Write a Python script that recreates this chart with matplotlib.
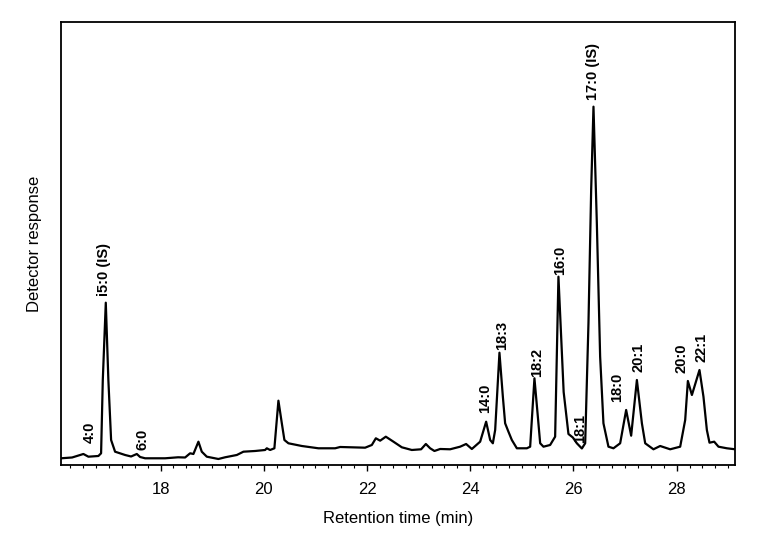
import numpy as np
import matplotlib
matplotlib.use("Agg")
import matplotlib.pyplot as plt
from matplotlib.ticker import MultipleLocator

plt.rcParams['font.family'] = ['Liberation Sans', 'DejaVu Sans']

# chromatogram trace (time in min, response in arbitrary units)
time_min = [16.072, 16.285, 16.504, 16.601, 16.795, 16.847, 16.880, 16.938, 16.988, 17.041,
            17.118, 17.312, 17.428, 17.539, 17.603, 17.700, 18.087, 18.339, 18.475, 18.572,
            18.636, 18.733, 18.798, 18.895, 19.120, 19.250, 19.477, 19.605, 19.831, 20.025,
            20.058, 20.122, 20.205, 20.283, 20.349, 20.399, 20.477, 20.736, 21.058, 21.382,
            21.479, 21.963, 22.093, 22.171, 22.254, 22.364, 22.512, 22.674, 22.868, 23.048,
            23.140, 23.223, 23.306, 23.417, 23.610, 23.804, 23.920, 24.031, 24.192, 24.308,
            24.386, 24.438, 24.483, 24.566, 24.632, 24.676, 24.740, 24.806, 24.903, 25.097,
            25.161, 25.244, 25.310, 25.355, 25.419, 25.548, 25.645, 25.709, 25.810, 25.903,
            25.988, 26.066, 26.163, 26.227, 26.291, 26.343, 26.388, 26.453, 26.517, 26.581,
            26.678, 26.775, 26.905, 27.021, 27.118, 27.229, 27.326, 27.390, 27.550, 27.680,
            27.874, 28.068, 28.165, 28.217, 28.295, 28.442, 28.519, 28.585, 28.636, 28.727,
            28.810, 28.973, 29.134]
response = [6.7, 7.5, 11.0, 8.3, 9.0, 11.7, 85.0, 162.3, 85.0, 25.0,
            13.3, 10.0, 8.5, 11.0, 8.0, 6.7, 6.7, 7.7, 7.5, 11.7,
            11.0, 23.3, 13.3, 8.3, 6.0, 7.7, 10.0, 13.3, 14.0, 15.0,
            16.7, 15.0, 16.7, 64.3, 41.7, 25.0, 21.7, 19.0, 16.7, 16.7,
            18.0, 17.3, 20.0, 26.7, 24.3, 28.3, 23.3, 17.7, 15.0, 15.7,
            21.0, 16.7, 14.0, 16.0, 15.7, 18.3, 21.0, 16.0, 23.3, 43.3,
            25.0, 21.7, 35.0, 112.3, 68.3, 41.7, 33.3, 25.0, 16.7, 16.7,
            18.3, 86.7, 48.3, 21.7, 18.3, 20.0, 28.3, 188.3, 73.0, 31.0,
            27.5, 21.7, 16.5, 21.7, 142.0, 275.0, 358.3, 242.0, 108.3, 41.7,
            18.3, 16.7, 21.7, 55.0, 29.3, 85.0, 41.7, 21.7, 15.7, 19.0,
            15.7, 18.3, 45.0, 84.0, 70.0, 95.0, 68.3, 35.0, 22.3, 23.3,
            18.3, 16.7, 15.7]

# peak labels: text, x position (min), bottom of label (response units)
peak_names = ["4:0", "i5:0 (IS)", "6:0", "14:0", "18:3", "18:2", "16:0",
              "18:1", "17:0 (IS)", "18:0", "20:1", "20:0", "22:1"]
peak_x = [16.63, 16.905, 17.64, 24.29, 24.61, 25.29, 25.74,
          26.13, 26.38, 26.84, 27.26, 28.10, 28.49]
peak_y = [22, 169, 15, 52, 115, 88, 190, 22, 365, 63, 93, 92, 103]

fig = plt.figure(figsize=(7.74, 5.41), dpi=100)
ax = fig.add_axes([0.0788, 0.1405, 0.8708, 0.8189])

ax.plot(time_min, response, color="black", lw=1.6, solid_joinstyle="round")

for name, x, y in zip(peak_names, peak_x, peak_y):
    ax.text(x, y, name, rotation=90, ha="center", va="bottom",
            fontsize=10.5, fontweight="bold")

ax.set_xlim(16.07, 29.13)
ax.set_ylim(0, 443)
ax.set_yticks([])
ax.xaxis.set_major_locator(MultipleLocator(2))
ax.xaxis.set_minor_locator(MultipleLocator(0.25))
ax.tick_params(axis="x", which="major", direction="out", length=4, width=1, labelsize=12, pad=8)
ax.tick_params(axis="x", which="minor", direction="out", length=2.5, width=0.8)
for s in ax.spines.values():
    s.set_linewidth(1.3)

ax.set_xlabel("Retention time (min)", fontsize=12, labelpad=10)
ax.set_ylabel("Detector response", fontsize=12, labelpad=14)

plt.savefig("out.png", dpi=100)
